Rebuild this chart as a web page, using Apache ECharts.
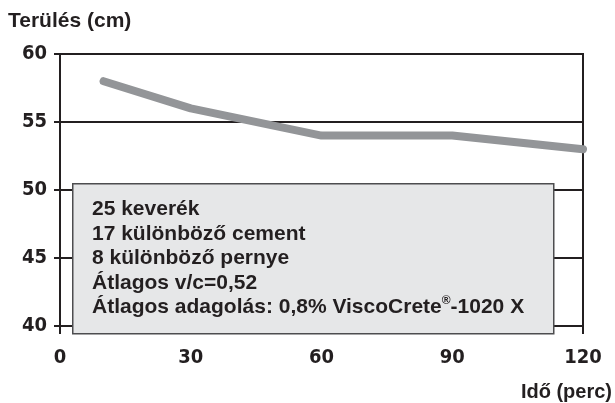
<!DOCTYPE html>
<html>
<head>
<meta charset="utf-8">
<script src="https://cdn.jsdelivr.net/npm/echarts@6/dist/echarts.min.js"></script>
<style>
  html, body { margin: 0; padding: 0; background: #fff; }
  #chart { width: 615px; height: 403px; }
</style>
</head>
<body>
<div id="chart"></div>
<script>
// minutes after mixing
const times = [10, 30, 60, 90, 120];
// flow (cm)
const flow = [58, 56, 54, 54, 53];
const xTicks = [0, 30, 60, 90, 120];
const yTicks = [40, 45, 50, 55, 60];
const noteLines = [
    '25 keverék',
    '17 különböző cement',
    '8 különböző pernye',
    'Átlagos v/c=0,52',
    'Átlagos adagolás: 0,8% ViscoCrete{sup|®}-1020 X'
];

const dark = '#231f20';
const narrow = 'DejaVu Sans Condensed';
const sans = 'Liberation Sans';

const chart = echarts.init(document.getElementById('chart'));

chart.setOption({
    animation: false,
    backgroundColor: '#fff',
    title: [
        {
            text: 'Terülés (cm)',
            left: 8, top: 11, padding: 0,
            textStyle: { fontFamily: sans, fontSize: 21, fontWeight: 'bold', color: dark }
        },
        {
            text: 'Idő (perc)',
            right: 3, top: 382, padding: 0,
            textStyle: { fontFamily: sans, fontSize: 20, fontWeight: 'bold', color: dark }
        }
    ],
    grid: { left: 60, right: 32, top: 54, bottom: 77, show: true, borderColor: dark, borderWidth: 2 },
    xAxis: {
        type: 'value',
        min: xTicks[0], max: xTicks[xTicks.length - 1], interval: 30,
        axisLine: { show: true, lineStyle: { color: dark, width: 2 } },
        axisTick: { show: true, length: 8, lineStyle: { color: dark, width: 2 } },
        axisLabel: { margin: 22, color: dark, fontFamily: narrow, fontSize: 20, fontWeight: 'bold' },
        splitLine: { show: false }
    },
    yAxis: {
        type: 'value',
        min: yTicks[0], max: yTicks[yTicks.length - 1], interval: 5,
        axisLine: { show: true, lineStyle: { color: dark, width: 2 } },
        axisTick: { show: true, length: 6, lineStyle: { color: dark, width: 2 } },
        axisLabel: { margin: 13, color: dark, fontFamily: narrow, fontSize: 20, fontWeight: 'bold' },
        splitLine: { show: true, lineStyle: { color: dark, width: 2 } }
    },
    series: [{
        type: 'line',
        data: times.map((t, i) => [t, flow[i]]),
        symbol: 'none',
        lineStyle: { color: '#939598', width: 8, cap: 'round', join: 'round' },
        z: 3
    }],
    graphic: [
        {
            type: 'rect',
            left: 72, top: 183, z: 100,
            shape: { x: 0, y: 0, width: 481, height: 150 },
            style: { fill: '#e6e7e8', stroke: '#4d4d4f', lineWidth: 1.5 }
        },
        {
            type: 'text',
            left: 92, top: 197, z: 101,
            style: {
                text: noteLines.join('\n'),
                fill: dark,
                fontFamily: sans,
                fontSize: 21,
                fontWeight: 'bold',
                lineHeight: 24.5,
                rich: {
                    sup: { fontSize: 12, fontWeight: 'bold', fontFamily: sans, verticalAlign: 'top', padding: [0, 0, 9, 0], fill: dark }
                }
            }
        }
    ]
});
</script>
</body>
</html>
